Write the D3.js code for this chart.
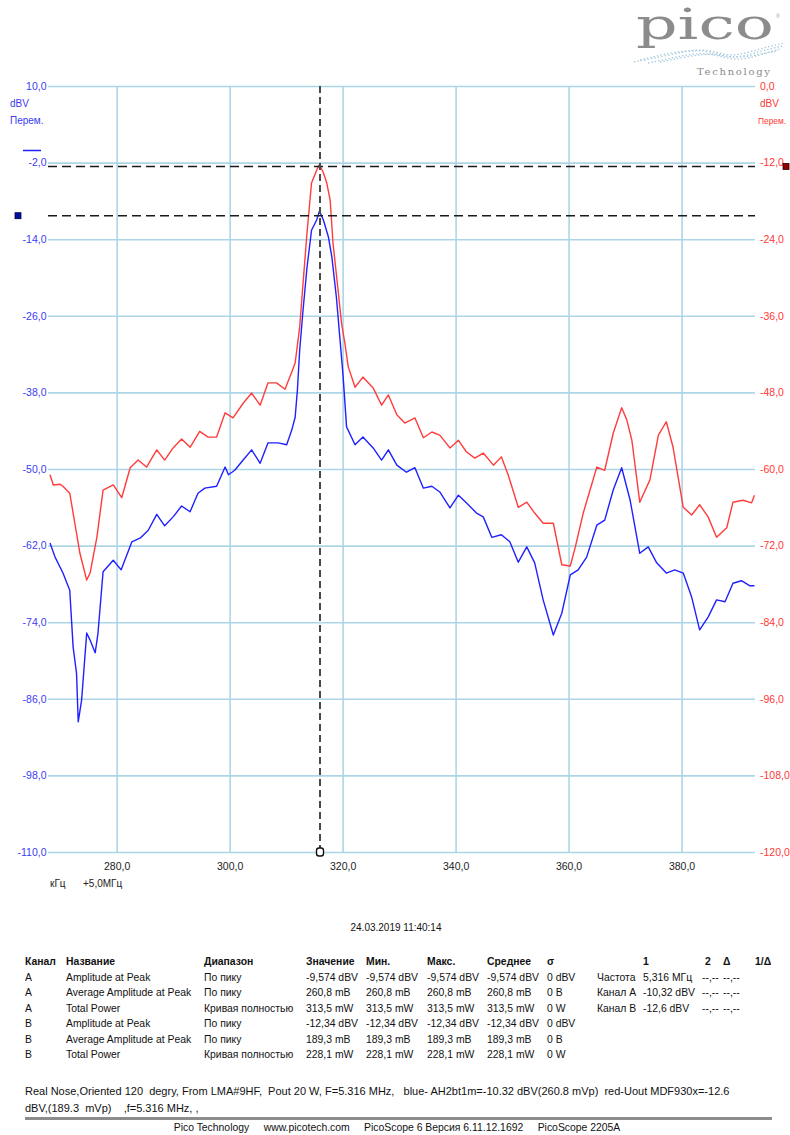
<!DOCTYPE html>
<html><head><meta charset="utf-8">
<script src="https://cdn.jsdelivr.net/npm/d3@7"></script>
<style>
body{margin:0;background:#fff}
svg{display:block;font-family:"Liberation Sans",Arial,sans-serif}
</style></head><body>
<svg id="chart" width="790" height="1135"></svg>
<script>
// Spectrum traces: frequency offset in kHz above 5,0 MHz, level in dBV
const blueFreq = [268.2,269.1,270.5,271.7,272.3,272.9,273.2,273.8,274.7,275.3,276.2,276.7,277.6,279.4,280.8,282.7,284.2,285.6,287.1,288.5,290.0,291.5,293.0,294.4,295.6,297.7,299.2,299.8,300.9,302.4,303.9,305.4,306.8,308.6,310.1,311.0,311.6,312.0,312.4,313.0,313.7,314.5,315.4,315.9,316.6,317.5,318.1,318.9,319.5,320.1,320.7,322.2,323.6,325.4,326.9,328.1,329.6,331.3,332.8,334.3,335.8,337.2,339.0,340.5,341.9,343.7,344.9,346.4,348.1,349.6,351.1,352.6,354.0,355.5,357.3,358.8,360.3,361.7,363.2,365.0,366.4,367.9,369.4,370.9,372.6,374.1,375.6,377.3,378.8,380.3,381.8,383.2,384.7,386.2,387.7,389.1,390.6,392.1,392.9];
const blueLevel = [-61.6,-63.8,-66.3,-69.0,-77.9,-82.0,-89.6,-86.2,-75.7,-76.8,-78.8,-75.7,-66.1,-64.3,-65.8,-61.4,-60.8,-59.6,-57.1,-58.9,-57.5,-55.8,-56.7,-53.8,-53.0,-52.7,-49.7,-50.9,-50.2,-48.6,-47.0,-49.1,-45.9,-45.9,-46.2,-43.9,-41.9,-37.6,-31.4,-25.1,-18.4,-12.6,-11.0,-9.6,-11.0,-13.7,-16.8,-23.1,-29.3,-35.6,-43.4,-46.2,-45.0,-46.7,-48.6,-47.0,-49.4,-50.5,-49.8,-53.0,-52.7,-53.6,-56.1,-54.1,-55.3,-56.9,-57.5,-60.7,-60.3,-61.4,-64.6,-62.2,-64.7,-70.5,-76.0,-72.6,-66.6,-65.8,-63.8,-58.8,-58.0,-53.3,-49.8,-54.9,-63.2,-62.2,-64.7,-66.3,-65.8,-66.3,-70.1,-75.2,-73.2,-70.5,-70.8,-67.9,-67.5,-68.3,-68.3];
const redFreq = [268.2,268.8,270.0,270.5,271.7,272.6,273.5,274.7,275.3,276.5,277.6,279.4,280.9,282.4,283.8,285.3,287.1,288.5,290.0,291.5,293.0,294.7,296.2,297.7,299.2,300.6,302.4,303.9,305.4,306.8,308.3,309.8,311.0,311.6,312.4,313.0,313.7,314.5,315.4,315.9,316.6,317.2,317.8,318.3,319.2,319.8,320.4,321.0,322.2,323.6,325.4,326.9,328.1,329.6,331.0,332.8,334.3,335.8,337.2,339.0,340.5,341.9,343.4,344.9,346.7,348.1,349.3,351.1,352.6,354.0,355.5,357.3,358.8,360.3,361.2,362.6,363.8,365.0,366.4,367.9,369.4,370.3,371.2,372.6,374.4,375.9,377.3,378.5,380.3,381.8,383.2,384.7,386.2,388.0,389.1,390.9,392.4,392.9];
const redLevel = [-60.9,-62.5,-62.4,-62.7,-63.8,-68.5,-73.2,-77.4,-76.3,-70.7,-63.3,-62.5,-64.5,-59.8,-58.6,-59.7,-57.0,-58.6,-56.7,-55.3,-56.6,-54.1,-55.0,-55.0,-51.2,-52.0,-49.7,-48.1,-50.0,-46.5,-46.5,-47.5,-44.8,-43.4,-37.8,-30.9,-23.0,-15.2,-13.2,-12.3,-13.6,-15.2,-17.9,-24.6,-32.0,-37.1,-40.3,-44.0,-47.2,-45.6,-47.3,-50.0,-48.4,-51.5,-52.8,-52.0,-55.1,-54.2,-54.7,-56.7,-55.5,-57.3,-58.3,-57.5,-59.4,-58.1,-60.9,-66.0,-65.2,-66.9,-68.5,-68.5,-75.0,-75.2,-72.2,-66.9,-63.3,-59.7,-60.2,-54.4,-50.4,-52.3,-55.5,-65.2,-61.7,-54.7,-52.6,-56.6,-66.0,-67.2,-65.6,-67.5,-70.7,-69.2,-65.2,-64.9,-65.3,-64.1];

// Axis extents and tick values
const freqMin = 267.85, freqMax = 393.0;
const freqTicks = [280, 300, 320, 340, 360, 380];
const leftTicks = [10, -2, -14, -26, -38, -50, -62, -74, -86, -98, -110];
const rightTicks = [0, -12, -24, -36, -48, -60, -72, -84, -96, -108, -120];

// Cursor readings
const cursorFreq = 316.0;
const cursorA = -10.32;
const cursorB = -12.6;

// Measurement table
const measHeaders = ["Канал", "Название", "Диапазон", "Значение", "Мин.", "Макс.", "Среднее", "σ"];
const measChannel = ["A", "A", "A", "B", "B", "B"];
const measName = ["Amplitude at Peak", "Average Amplitude at Peak", "Total Power", "Amplitude at Peak", "Average Amplitude at Peak", "Total Power"];
const measRange = ["По пику", "По пику", "Кривая полностью", "По пику", "По пику", "Кривая полностью"];
const measValue = ["-9,574 dBV", "260,8 mB", "313,5 mW", "-12,34 dBV", "189,3 mB", "228,1 mW"];
const measMin = ["-9,574 dBV", "260,8 mB", "313,5 mW", "-12,34 dBV", "189,3 mB", "228,1 mW"];
const measMax = ["-9,574 dBV", "260,8 mB", "313,5 mW", "-12,34 dBV", "189,3 mB", "228,1 mW"];
const measMean = ["-9,574 dBV", "260,8 mB", "313,5 mW", "-12,34 dBV", "189,3 mB", "228,1 mW"];
const measSigma = ["0 dBV", "0 B", "0 W", "0 dBV", "0 B", "0 W"];

// Cursor table
const curHeaders = ["", "1", "2", "Δ", "1/Δ"];
const curRows = [
  ["Частота", "5,316 МГц", "--,--", "--,--"],
  ["Канал A", "-10,32 dBV", "--,--", "--,--"],
  ["Канал B", "-12,6 dBV", "--,--", "--,--"]
];

const noteLines = [
  "Real Nose,Oriented 120  degry, From LMA#9HF,  Pout 20 W, F=5.316 MHz,   blue- AH2bt1m=-10.32 dBV(260.8 mVp)  red-Uout MDF930x=-12.6",
  "dBV,(189.3  mVp)    ,f=5.316 MHz, ,"
];
const footerText = "Pico Technology     www.picotech.com     PicoScope 6 Версия 6.11.12.1692     PicoScope 2205A";
const stampText = "24.03.2019 11:40:14";

// ---------------------------------------------------------------
const svg = d3.select("#chart");
svg.append("rect").attr("width", 790).attr("height", 1135).attr("fill", "#fff");

const plot = {left: 48, right: 755, top: 86, bottom: 852};
const ru = d3.formatLocale({decimal: ",", thousands: " ", grouping: [3], currency: ["", ""], minus: "-"});
const fmt = ru.format(".1f");

const x = d3.scaleLinear().domain([freqMin, freqMax]).range([plot.left, plot.right]);
const yA = d3.scaleLinear().domain([-110, 10]).range([plot.bottom, plot.top]);
const yB = d3.scaleLinear().domain([-120, 0]).range([plot.bottom, plot.top]);

const gridColor = "#acd6e6";
const blue = "#2020ff", red = "#ff3c3c";
const blueText = "#3c3cf0", redText = "#ff3838";

// Vertical grid + frequency labels
const gx = svg.append("g").attr("transform", `translate(0,${plot.bottom})`)
  .call(d3.axisBottom(x).tickValues(freqTicks).tickFormat(fmt)
    .tickSizeInner(-(plot.bottom - plot.top)).tickSizeOuter(0).tickPadding(10.5));
gx.select(".domain").remove();
gx.selectAll("line").attr("stroke", gridColor).attr("stroke-width", 1.6);
gx.selectAll("text").attr("fill", "#222").attr("font-size", 10.5).attr("font-family", "Liberation Sans, Arial, sans-serif");

// Horizontal grid + left (channel A) labels
const gl = svg.append("g").attr("transform", `translate(${plot.left},0)`)
  .call(d3.axisLeft(yA).tickValues(leftTicks).tickFormat(fmt)
    .tickSizeInner(-(plot.right - plot.left)).tickSizeOuter(0).tickPadding(1.5));
gl.select(".domain").remove();
gl.selectAll("line").attr("stroke", gridColor).attr("stroke-width", 1.6);
gl.selectAll("text").attr("fill", blueText).attr("font-size", 10.5).attr("font-family", "Liberation Sans, Arial, sans-serif");

// Right (channel B) labels
const gr = svg.append("g").attr("transform", `translate(${plot.right},0)`)
  .call(d3.axisRight(yB).tickValues(rightTicks).tickFormat(fmt).tickSize(0).tickPadding(5));
gr.select(".domain").remove();
gr.selectAll("text").attr("fill", redText).attr("font-size", 10.5).attr("font-family", "Liberation Sans, Arial, sans-serif");

// Units under the top labels
const unitStyle = (sel, color) => sel.attr("font-size", 10).attr("fill", color);
svg.append("text").attr("x", 10).attr("y", 107).text("dBV").call(unitStyle, blueText);
svg.append("text").attr("x", 10).attr("y", 124).text("Перем.").call(unitStyle, blueText);
svg.append("text").attr("x", 760).attr("y", 107).text("dBV").call(unitStyle, redText);
svg.append("text").attr("x", 758).attr("y", 124).text("Перем.").call(unitStyle, redText)
  .attr("font-size", 8.4);
svg.append("line").attr("x1", 23).attr("x2", 41).attr("y1", 150.5).attr("y2", 150.5)
  .attr("stroke", blue).attr("stroke-width", 1.5);

svg.append("text").attr("x", 50).attr("y", 887).attr("font-size", 10).attr("fill", "#222").text("кГц");
svg.append("text").attr("x", 83).attr("y", 887).attr("font-size", 10).attr("fill", "#222").text("+5,0МГц");

// Traces
const lineA = d3.line().x((d, i) => x(blueFreq[i])).y(d => yA(d));
const lineB = d3.line().x((d, i) => x(redFreq[i])).y(d => yB(d));
svg.append("path").datum(redLevel).attr("d", lineB)
  .attr("fill", "none").attr("stroke", red).attr("stroke-width", 1.4).attr("stroke-linejoin", "round");
svg.append("path").datum(blueLevel).attr("d", lineA)
  .attr("fill", "none").attr("stroke", blue).attr("stroke-width", 1.4).attr("stroke-linejoin", "round");

// Cursors
svg.append("line").attr("x1", plot.left).attr("x2", plot.right)
  .attr("y1", yB(cursorB)).attr("y2", yB(cursorB))
  .attr("stroke", "#1a1a1a").attr("stroke-width", 1.6).attr("stroke-dasharray", "9,5");
svg.append("line").attr("x1", plot.left).attr("x2", plot.right)
  .attr("y1", yA(cursorA)).attr("y2", yA(cursorA))
  .attr("stroke", "#1a1a1a").attr("stroke-width", 1.6).attr("stroke-dasharray", "9,5");
svg.append("line").attr("x1", x(cursorFreq)).attr("x2", x(cursorFreq))
  .attr("y1", plot.top).attr("y2", plot.bottom)
  .attr("stroke", "#4a4a4a").attr("stroke-width", 2).attr("stroke-dasharray", "7,4");
svg.append("rect").attr("x", x(cursorFreq) - 3.5).attr("y", plot.bottom - 4).attr("width", 7).attr("height", 8)
  .attr("rx", 2.5).attr("fill", "#fff").attr("stroke", "#111").attr("stroke-width", 1.4);
svg.append("rect").attr("x", 15).attr("y", yA(cursorA) - 3).attr("width", 6).attr("height", 6)
  .attr("fill", "#0010a0").attr("stroke", "#000040").attr("stroke-width", 0.8);
svg.append("rect").attr("x", 783).attr("y", yB(cursorB) - 3).attr("width", 6).attr("height", 6)
  .attr("fill", "#900000").attr("stroke", "#300000").attr("stroke-width", 0.8);

// Logo
const logo = svg.append("g");
const wave = d3.line().curve(d3.curveBasis);
[[[634,62],[670,55],[705,47],[730,58],[755,50],[784,43]],
 [[640,60],[672,52],[706,49],[732,60],[757,52],[782,46]],
 [[648,63],[676,57],[708,51],[734,62],[760,55],[780,49]],
 [[660,62],[690,56],[712,53],[738,59],[764,53],[778,51]]].forEach(pts => {
  logo.append("path").attr("d", wave(pts)).attr("fill", "none")
    .attr("stroke", "#9fc6dc").attr("stroke-width", 1.3).attr("stroke-dasharray", "1.3,2.2");
});
logo.append("text").attr("x", 636).attr("y", 39).attr("font-family", "DejaVu Serif, serif")
  .attr("font-size", 42).attr("fill", "#8c8c8c")
  .attr("textLength", 138).attr("lengthAdjust", "spacingAndGlyphs").text("pico");
logo.append("text").attr("x", 776).attr("y", 18).attr("font-size", 5).attr("fill", "#999").text("®");
logo.append("text").attr("x", 697).attr("y", 75).attr("font-family", "DejaVu Serif, serif")
  .attr("font-size", 10).attr("fill", "#8a8a8a").attr("textLength", 73).text("Technology");

// Timestamp
svg.append("text").attr("x", 396).attr("y", 931).attr("text-anchor", "middle")
  .attr("font-size", 10).attr("fill", "#111").text(stampText);

// Measurements table
const tbl = svg.append("g").attr("font-size", 10.4).attr("fill", "#111");
const colX = [25, 66, 204, 306, 366, 427, 487, 547];
const rowY = d => 965 + d * 15.5;
tbl.selectAll("text.mh").data(measHeaders).join("text").attr("class", "mh")
  .attr("x", (d, i) => colX[i]).attr("y", rowY(0)).attr("font-weight", "bold").text(d => d);
const cols = [measChannel, measName, measRange, measValue, measMin, measMax, measMean, measSigma];
cols.forEach((col, ci) => {
  tbl.selectAll(null).data(col).join("text")
    .attr("x", colX[ci]).attr("y", (d, i) => rowY(i + 1)).text(d => d);
});

// Cursor readings table
const curX = [597, 643, 705, 723, 755];
tbl.selectAll("text.ch").data(curHeaders).join("text").attr("class", "ch")
  .attr("x", (d, i) => curX[i]).attr("y", rowY(0)).attr("font-weight", "bold").text(d => d);
curRows.forEach((row, ri) => {
  const cx = [597, 643, 702, 723];
  tbl.selectAll(null).data(row).join("text")
    .attr("x", (d, i) => cx[i]).attr("y", rowY(ri + 1)).text(d => d);
});

// Notes and footer
svg.selectAll("text.note").data(noteLines).join("text").attr("class", "note")
  .attr("x", 25).attr("y", (d, i) => 1095 + i * 16.5).attr("font-size", 11)
  .attr("fill", "#111").style("white-space", "pre").text(d => d);
svg.append("line").attr("x1", 25).attr("x2", 772).attr("y1", 1118.5).attr("y2", 1118.5)
  .attr("stroke", "#8c8c8c").attr("stroke-width", 3);
svg.append("text").attr("x", 397).attr("y", 1131).attr("text-anchor", "middle")
  .attr("font-size", 10.4).attr("fill", "#111").style("white-space", "pre").text(footerText);
</script>
</body></html>
